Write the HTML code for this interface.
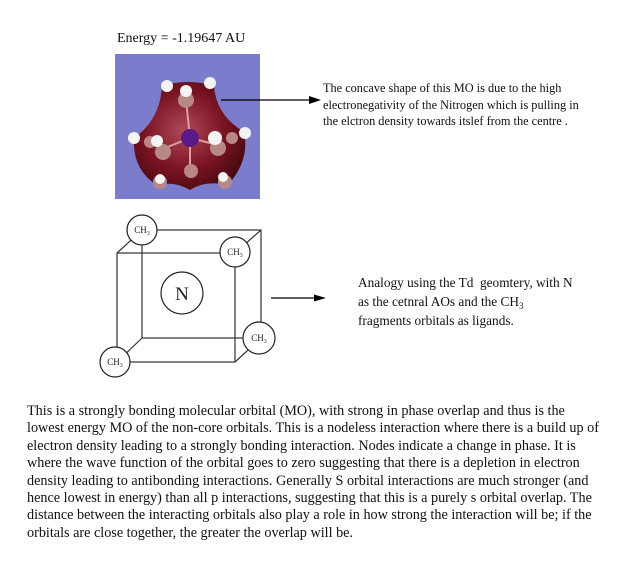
<!DOCTYPE html>
<html><head><meta charset="utf-8"><style>
html,body{margin:0;padding:0;background:#fff;}
body{width:627px;height:578px;position:relative;overflow:hidden;font-family:"Liberation Serif",serif;color:#111;}
.t{position:absolute;white-space:nowrap;}
</style></head><body>
<div class="t" style="left:117px;top:31px;font-size:14px;">Energy = -1.19647 AU</div>
<svg style="position:absolute;left:0;top:0" width="627" height="578">
<defs><radialGradient id="g" cx="45%" cy="45%" r="60%"><stop offset="0" stop-color="#b04a5a"/><stop offset="0.6" stop-color="#7a1422"/><stop offset="1" stop-color="#4a0a12"/></radialGradient></defs>
<rect x="115" y="54" width="145" height="145" fill="#7c7ccc"/>
<path d="M162,86 Q188,78 214,86 Q216,115 244,132 Q250,160 228,185 Q205,180 190,190 Q172,180 158,186 Q132,170 134,138 Q160,120 162,86 Z" fill="url(#g)"/>
<g stroke="#d9a0a0" stroke-width="2">
<line x1="190" y1="138" x2="186" y2="100"/><line x1="190" y1="138" x2="160" y2="150"/><line x1="190" y1="138" x2="218" y2="145"/><line x1="190" y1="138" x2="190" y2="170"/>
</g>
<g fill="#b88888"><circle cx="186" cy="100" r="8"/><circle cx="163" cy="152" r="8"/><circle cx="218" cy="148" r="8"/><circle cx="191" cy="171" r="7"/><circle cx="160" cy="182" r="7"/><circle cx="225" cy="182" r="7"/><circle cx="150" cy="142" r="6"/><circle cx="232" cy="138" r="6"/></g>
<g fill="#f4f4f4"><circle cx="167" cy="86" r="6"/><circle cx="210" cy="83" r="6"/><circle cx="186" cy="91" r="6"/><circle cx="134" cy="138" r="6"/><circle cx="245" cy="133" r="6"/><circle cx="157" cy="141" r="6"/><circle cx="215" cy="138" r="7"/><circle cx="160" cy="179" r="5"/><circle cx="223" cy="177" r="5"/></g>
<circle cx="190" cy="138" r="9" fill="#5a1a8a"/>
<line x1="221" y1="100" x2="312" y2="100" stroke="#000" stroke-width="1.3"/>
<polygon points="321,100 309,96 309,104" fill="#000"/>
<g stroke="#333" stroke-width="1.2" fill="none">
<rect x="142" y="230" width="119" height="108"/>
<rect x="117" y="253" width="118" height="109"/>
<line x1="117" y1="253" x2="142" y2="230"/><line x1="235" y1="253" x2="261" y2="230"/>
<line x1="235" y1="362" x2="261" y2="338"/><line x1="117" y1="362" x2="142" y2="338"/>
</g>
<g stroke="#222" stroke-width="1.2" fill="#fff">
<circle cx="142" cy="230" r="15"/><circle cx="235" cy="252" r="15"/><circle cx="259" cy="338" r="16"/><circle cx="115" cy="362" r="15"/><circle cx="182" cy="293" r="21"/>
</g>
<g font-family="Liberation Serif,serif" font-size="9" text-anchor="middle" fill="#222">
<text x="142" y="233">CH<tspan font-size="6" dy="2">3</tspan></text>
<text x="235" y="255">CH<tspan font-size="6" dy="2">3</tspan></text>
<text x="259" y="341">CH<tspan font-size="6" dy="2">3</tspan></text>
<text x="115" y="365">CH<tspan font-size="6" dy="2">3</tspan></text>
</g>
<text x="182" y="300" font-family="Liberation Serif,serif" font-size="19" text-anchor="middle" fill="#222">N</text>
<line x1="271" y1="298" x2="316" y2="298" stroke="#000" stroke-width="1.2"/>
<polygon points="326,298 314,294.5 314,301.5" fill="#000"/>
</svg>
<div class="t" style="left:323px;top:80px;font-size:12.3px;line-height:16.5px;">The concave shape of this MO is due to the high<br>electronegativity of the Nitrogen which is pulling in<br>the elctron density towards itslef from the centre .</div>
<div class="t" style="left:358px;top:273px;font-size:13.3px;line-height:19px;">Analogy using the Td&nbsp; geomtery, with N</div>
<div class="t" style="left:358px;top:292px;font-size:13.3px;line-height:19px;">as the cetnral AOs and the CH<span style="font-size:9px;position:relative;top:3px;">3</span></div>
<div class="t" style="left:358px;top:311px;font-size:13.3px;line-height:19px;">fragments orbitals as ligands.</div>
<div class="t" style="left:27px;top:403px;font-size:14.2px;line-height:17.4px;">This is a strongly bonding molecular orbital (MO), with strong in phase overlap and thus is the<br>lowest energy MO of the non-core orbitals. This is a nodeless interaction where there is a build up of<br>electron density leading to a strongly bonding interaction. Nodes indicate a change in phase. It is<br>where the wave function of the orbital goes to zero suggesting that there is a depletion in electron<br>density leading to antibonding interactions. Generally S orbital interactions are much stronger (and<br>hence lowest in energy) than all p interactions, suggesting that this is a purely s orbital overlap. The<br>distance between the interacting orbitals also play a role in how strong the interaction will be; if the<br>orbitals are close together, the greater the overlap will be.</div>
</body></html>
